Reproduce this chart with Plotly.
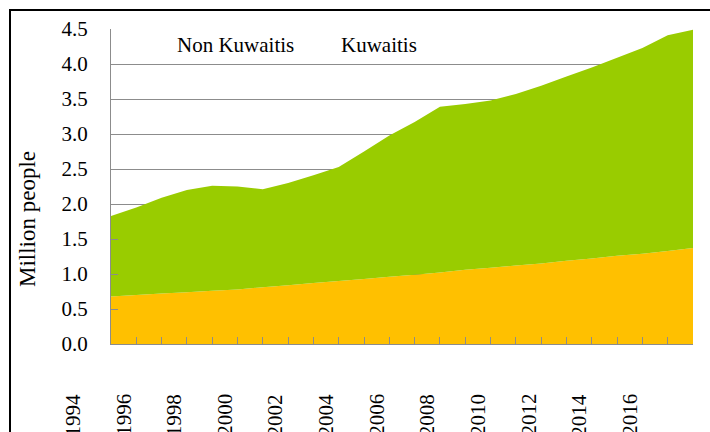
import plotly.graph_objects as go

# ---- data (million people) ----
years = list(range(1995, 2019))
kuwaitis = [0.68, 0.70, 0.72, 0.74, 0.76, 0.78, 0.81, 0.84, 0.87, 0.90, 0.93, 0.96,
            0.99, 1.02, 1.06, 1.09, 1.12, 1.15, 1.19, 1.22, 1.26, 1.29, 1.33, 1.37]
non_kuwaitis = [1.15, 1.25, 1.37, 1.46, 1.50, 1.47, 1.40, 1.46, 1.54, 1.63, 1.82, 2.02,
                2.18, 2.37, 2.37, 2.39, 2.45, 2.54, 2.63, 2.73, 2.83, 2.94, 3.08, 3.12]
series_names = ["Non Kuwaitis", "Kuwaitis"]
y_ticks = [0.0, 0.5, 1.0, 1.5, 2.0, 2.5, 3.0, 3.5, 4.0, 4.5]
x_label_years = [1994, 1996, 1998, 2000, 2002, 2004, 2006, 2008, 2010, 2012, 2014, 2016]
y_title = "Million people"

FONT = "Liberation Serif, Times New Roman, serif"
GREY = "#8c8c8c"

W, H = 710, 432
L, R, T, B = 111, 17, 29, 88
pw, ph = W - L - R, H - T - B
X0, X1 = years[0], years[-1]


def px_to_paper_x(px):
    return (px - L) / pw


def px_to_paper_y(py):
    return (H - B - py) / ph


def year_to_paper(v):
    return (v - X0) / (X1 - X0)


fig = go.Figure()
fig.add_trace(go.Scatter(x=years, y=kuwaitis, stackgroup="one", mode="none",
                         fillcolor="#FFC000", name=series_names[1], hoverinfo="skip"))
fig.add_trace(go.Scatter(x=years, y=non_kuwaitis, stackgroup="one", mode="none",
                         fillcolor="#99CC00", name=series_names[0], hoverinfo="skip"))

annotations = []
for yr in x_label_years:
    annotations.append(dict(x=year_to_paper(yr - 0.5), xref="paper", y=px_to_paper_y(392), yref="paper",
                            text=str(yr), showarrow=False, textangle=-90,
                            xanchor="center", yanchor="top",
                            font=dict(family=FONT, size=21, color="black")))
annotations.append(dict(x=px_to_paper_x(27), y=px_to_paper_y(219), xref="paper", yref="paper",
                        text=y_title, showarrow=False, textangle=-90,
                        xanchor="center", yanchor="middle",
                        font=dict(family=FONT, size=23, color="black")))
annotations.append(dict(x=px_to_paper_x(175), y=px_to_paper_y(45), xref="paper", yref="paper",
                        text=series_names[0], showarrow=False, xanchor="left", yanchor="middle",
                        font=dict(family=FONT, size=21, color="black")))
annotations.append(dict(x=px_to_paper_x(339), y=px_to_paper_y(45), xref="paper", yref="paper",
                        text=series_names[1], showarrow=False, xanchor="left", yanchor="middle",
                        font=dict(family=FONT, size=21, color="black")))

fig.update_layout(
    width=W, height=H,
    margin=dict(l=L, r=R, t=T, b=B),
    paper_bgcolor="white", plot_bgcolor="white",
    showlegend=False,
    font=dict(family=FONT, size=21, color="black"),
    annotations=annotations,
    shapes=[dict(type="rect", xref="paper", yref="paper",
                 x0=px_to_paper_x(10), x1=px_to_paper_x(760),
                 y0=px_to_paper_y(480), y1=px_to_paper_y(10),
                 line=dict(color="black", width=2), fillcolor="rgba(0,0,0,0)", layer="above")],
)
fig.update_xaxes(range=[X0, X1], showgrid=False, zeroline=False,
                 showline=True, linecolor=GREY, linewidth=1,
                 ticks="inside", ticklen=7, tickcolor=GREY,
                 tickmode="array", tickvals=years, showticklabels=False)
fig.update_yaxes(range=[0, 4.5], tickmode="array", tickvals=y_ticks,
                 ticktext=[f"{v:.1f}" for v in y_ticks],
                 showgrid=True, gridcolor=GREY, gridwidth=1, zeroline=False,
                 showline=True, linecolor=GREY, linewidth=1,
                 ticks="inside", ticklen=7, tickcolor=GREY,
                 ticklabelstandoff=18,
                 tickfont=dict(family=FONT, size=21, color="black"))

fig.write_html("out.html", config={"displayModeBar": False},
               post_script="document.body.style.margin='0';document.body.style.overflow='hidden';")
